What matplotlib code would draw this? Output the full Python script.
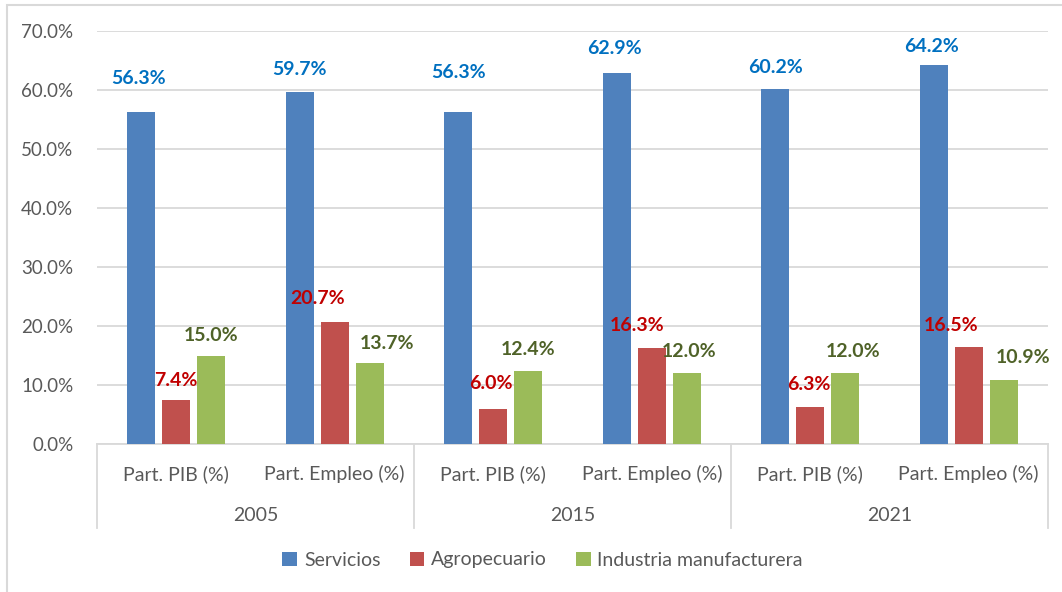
import matplotlib.pyplot as plt
from matplotlib.patches import Rectangle
import numpy as np

plt.rcParams['font.family'] = ['Lato', 'DejaVu Sans']

anios = ["2005", "2015", "2021"]
indicadores = ["Part. PIB (%)", "Part. Empleo (%)"]
series = ["Servicios", "Agropecuario", "Industria manufacturera"]
servicios = [56.3, 59.7, 56.3, 62.9, 60.2, 64.2]
agropecuario = [7.4, 20.7, 6.0, 16.3, 6.3, 16.5]
industria = [15.0, 13.7, 12.4, 12.0, 12.0, 10.9]

colores = ["#4F81BD", "#C0504D", "#9BBB59"]
colores_etiq = ["#0070C0", "#C00000", "#4F6228"]

# desplazamientos manuales de las etiquetas (pixeles), como en el original
dx = [[-3, 0, 0, -2, 0, -2],
      [0, -17, -2, -15, -1, -18],
      [0, 17, 0, 2, 8, 19]]
dy = [[33, 22, 39, 24, 21, 19],
      [20, 23, 25, 22, 22, 21],
      [20, 20, 21, 22, 22, 22]]

fig = plt.figure(figsize=(10.62, 5.92), dpi=100)
ax = fig.add_axes([97 / 1062, 0.25, (1048 - 97) / 1062, (444 - 31) / 592])

n = len(servicios)
x = np.arange(n)
ancho = 0.177
paso = 0.221
datos = [servicios, agropecuario, industria]

for k, (vals, nombre) in enumerate(zip(datos, series)):
    pos = x + (k - 1) * paso
    ax.bar(pos, vals, width=ancho, color=colores[k], label=nombre, zorder=3)
    for i, v in enumerate(vals):
        ax.annotate(f"{v:.1f}%", (pos[i], v), xytext=(dx[k][i], dy[k][i]),
                    textcoords="offset pixels", ha="center", va="center",
                    fontsize=14, fontweight="bold", color=colores_etiq[k])

ax.set_xlim(-0.5, n - 0.5)
ax.set_ylim(0, 70)
ax.set_yticks(np.arange(0, 71, 10))
ax.set_yticklabels([f"{t:.1f}%" for t in np.arange(0, 71, 10)])
ax.tick_params(axis="y", length=0, labelsize=13.5, labelcolor="#595959", pad=17)
ax.yaxis.grid(True, color="#D9D9D9", linewidth=1.3, zorder=0)
ax.set_xticks([])
for s in ["top", "right", "left"]:
    ax.spines[s].set_visible(False)
ax.spines["bottom"].set_color("#D9D9D9")
ax.spines["bottom"].set_linewidth(1.3)

# eje de categorias en dos niveles
tr = ax.get_xaxis_transform()
for i in range(n):
    ax.text(x[i], -0.073, indicadores[i % 2], transform=tr, ha="center",
            va="center", fontsize=14, color="#595959")
for j, a in enumerate(anios):
    ax.text(2 * j + 0.5, -0.172, a, transform=tr, ha="center", va="center",
            fontsize=14, color="#595959")
for xs in [-0.5, 1.5, 3.5, 5.5]:
    ax.plot([xs, xs], [0, -0.2034], transform=tr, color="#D9D9D9",
            linewidth=1.3, clip_on=False)

fig.legend(loc="center", bbox_to_anchor=(0.511, 1 - 560 / 592), ncol=3,
           frameon=False, fontsize=14, handlelength=0.75, handleheight=0.75,
           handletextpad=0.35, columnspacing=1.5, labelcolor="#595959")

fig.patches.append(Rectangle((7 / 1062, -0.1), 1.2, 1 - 5 / 592 + 0.1,
                             transform=fig.transFigure, fill=False,
                             edgecolor="#D9D9D9", linewidth=1.5))

fig.savefig("out.png", dpi=100)
